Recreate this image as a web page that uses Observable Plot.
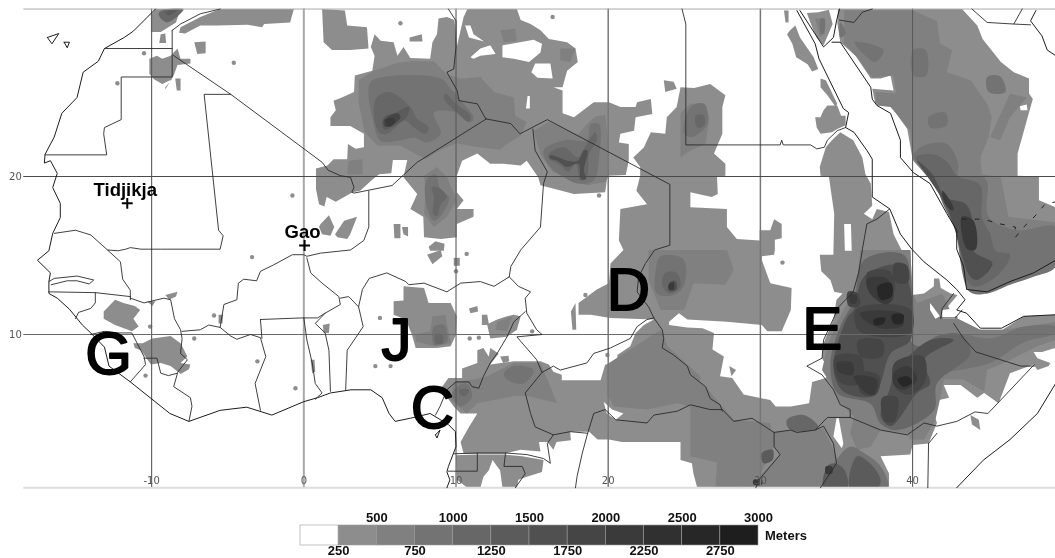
<!DOCTYPE html>
<html><head><meta charset="utf-8">
<style>html,body{margin:0;padding:0;background:#fff}svg{display:block;filter:blur(.45px)}</style>
<script src="https://cdn.jsdelivr.net/npm/d3@7"></script>
<script src="https://cdn.jsdelivr.net/npm/@observablehq/plot@0.6"></script>
</head><body><div id="map"></div><div id="key"></div>
<script>
// Elevation bands: polygons as flat lon,lat lists
const band1 = [
[1.2,30.6,2.7,30.5,2.85,29.55,4.15,29.45,4.25,28.1,3.05,28,1.85,28,1.3,28.5],
[4.65,29,5.05,28.6,5.9,28.5,6.15,27.65,6.55,28.2,7,27.5,8.3,27.45,8.45,28.5,8.75,29,8.85,30,9.4,30.1,9.9,29.9,10.05,28.2,10.5,30.1,10.75,30.6,14,30.6,14.25,29.9,14.9,29.65,15.55,29.25,16.1,28.7,17.3,28.5,17.85,28.1,18,27.25,17.3,26.7,17,25.65,16.4,25.65,17,25.45,17,24,17.75,23.75,19.05,24.7,20.05,24.7,20.8,24.4,21.8,24.4,21.9,24.7,22.8,24.9,22.9,23.95,21.8,23.75,21.7,22.9,20.8,22.7,20.7,22.15,21.35,22.05,21.35,21,21.15,20.1,19.95,20.05,19.8,19,17.75,18.9,15.55,19.45,15.4,19.95,14.65,21,14.25,20.7,13.15,20.8,12.25,20.8,11.4,21.45,10.4,21,10.05,20.05,10.05,19,10.5,18.5,10.05,17.95,11.15,17.95,11.15,17.45,10.05,17,10.05,16.15,9,16.05,7.9,16.15,7.85,17.45,7,17.95,7.45,18.9,6.55,19.95,6.8,21.05,5.85,21.05,5.75,20.2,4.95,20.15,4.55,19.85,3.7,19.1,3.2,19,2.1,18.4,1.5,18.7,1.35,18.1,1,18.25,0.8,19.2,0.8,20.5,1.55,20.7,1.95,21.1,2.85,21.1,2.9,22.05,3.4,21.75,3.95,21.85,3.95,22.7,3.05,23.2,1.75,23.2,1.75,23.75,2.1,24.2,1.95,24.8,2.5,25,3.3,25.35,3.35,26.4,4.5,26.7,4.65,27.65,4.4,28.2],
[6.95,28.8,7.75,29,7.8,28.55,6.95,28.55],
[23.65,26.1,24.3,26,24.5,25.55,23.75,25.35],
[1.1,17,1.65,17.55,2,16.8,1.75,16.25,1.2,16.35,1,16.8],
[2.05,16.35,2.65,17.2,3.5,17.45,3.05,16.35,2.85,16.05,2.2,16.15],
[5.9,17,6.35,17,6.35,16.1,5.95,16.1],
[6.45,16.8,6.85,16.8,6.85,16.2,6.55,16.35],
[8.2,15.55,8.65,15.9,9.25,15.75,9.2,15.3,8.3,15.3],
// Darfur, Central Africa, Ethiopia, Horn, East Africa
[24.75,25.65,25.65,25.6,26.7,25.85,27.7,25.15,27.5,24.4,27.5,22.7,26.95,21.45,27.7,20.8,27.7,20.05,27.15,20,27.2,18.9,26.8,18.7,25.4,19,25.4,18.05,27.8,17.95,27.8,16.8,28.45,16.05,29.95,15.95,29.95,16.6,30.65,16.6,30.9,17.3,31.4,17,31.4,16.1,30.95,16,30.95,15.35,30.9,15.05,30.1,14.95,30.1,14.7,30.65,13.25,32.05,12.95,32,11.55,31.4,10.2,30.45,10.2,30.1,10.6,27.8,10.8,25.2,10.95,24.65,11.35,24,10.8,24,10.6,25.2,10.45,26.2,10.4,26.95,10.1,26.85,9.05,27.6,8.6,27.35,7.35,28.15,7.25,28.9,6.2,30.65,5.85,31,5.45,32,5.45,33.2,5.65,33.4,7,34.3,7.25,34.5,7.75,34.05,8.5,34.15,9.45,34.8,10.95,35,12.2,35.4,12.6,34.85,12.7,34.6,13.45,34,14,33.9,15.05,34.8,15.05,34.8,15.3,34.85,17.65,34.5,20,33.95,20.05,33.9,20.6,34.3,21.85,34.7,22.3,35.25,22.8,36.1,22.3,36.7,21.2,36.9,20.15,37.25,19.55,37.35,18.15,36.8,17.65,37.35,17.3,37.65,17.95,38.45,17.75,38.75,16.35,39.3,15.3,39.85,15.35,39.95,13.2,39.95,12.5,40.75,12.6,41.4,13.05,41.4,13.55,41.75,13.55,41.85,12.95,42.5,12.6,42.95,12.5,42.7,12.2,42.2,11.65,41.85,11.15,42.95,11.15,42.95,10.6,44.45,10.3,45.9,10.3,47.3,11.15,49.4,11.25,49.4,9.15,48.5,8.9,47.95,8.9,48.2,8.5,49.05,8.2,48.95,8,48.2,7.75,47.95,8.1,46.4,7.55,45.65,5.65,44.7,6.3,44.25,6,43.15,6.8,42.05,6.8,42.4,6,41.75,5.85,41.4,5,41.6,4.4,41.05,3.1,40,3,39.85,2.4,37.9,2.3,38.45,1.2,38.45,0.3,25.85,0.3,25.6,1.2,25.5,1.85,24.75,2.05,24.75,2.7,24.75,3.2,20.9,3.2,20.05,3.35,19.3,3.35,18.75,3.85,17.5,3.85,17.55,3.3,16.6,3.2,16.4,2.7,16,3.2,15.45,3.2,15.55,2.6,14.25,2.7,13.15,2.45,10.5,2.45,10.3,3.2,10.85,4.15,11.4,5,10.3,5,9.85,5.45,9.4,6.05,8.95,6.5,9.5,7.25,10.4,7.25,10.4,7.85,11.4,8.2,11.4,9,11.8,9.15,12.15,8.6,12.25,9.15,12.8,8.8,12.25,8.1,13.8,8.3,15.55,8.3,16.1,8.1,16.4,7.65,16.95,7.45,16.95,7.1,19.5,7.1,19.8,8.1,20.6,8.1,20.6,8.7,21.45,9.25,21.8,10.1,22.35,10.6,23,10.95,20.15,11.05,18.85,11.25,18.05,11.25,18.05,12,19.25,12.85,20.05,13.25,20.15,14.5,21,15.35,20.7,15.95,20.8,17.95,22.55,18.25,21.85,19.1,22.1,20.05,22.1,20.6,21.65,21.2,22.35,21.85,22.8,22.8,23.75,22.7,23.85,23.75,24.5,24.4],
[10,2.35,11.35,2.4,13.15,2.4,14.35,2.3,15.75,2.05,15.65,1.3,14.65,1,14.1,0.8,14,0.3,13.05,0.3,12.9,1.4,12.4,2.05,12.15,1.4,11.8,1,11.6,0.3,10.75,0.3,10.05,0.8],
[27.95,8,28.4,7.75,28.1,7.35],
[43.8,4.9,44.35,4.6,44.45,3.95,43.9,4.3],
// Red Sea hills
[31.55,30.5,31.85,30.5,31.85,29.75,31.65,29.75],
[31.95,29.25,32.3,29.55,32.6,28.8,33.5,27.55,33.8,26.8,33.4,26.65,33.1,27.1,32.35,27.55,32.1,28.4,31.75,29],
[33.95,26.2,34.3,26.1,35.05,24.6,34.95,24.4,34.4,25.15,33.95,25.65],
[33.6,23.75,33.95,23.75,34.15,24.2,34.4,24.5,35.05,24.5,35.3,23.85,35.6,23.85,35.6,23.25,35.05,23,34.7,22.8,33.95,22.7,33.7,23.1],
[33.05,30.35,33.8,30.4,34.5,30.55,34.75,29.65,34.15,28.3,33.7,28.8,33.4,29.45],
// Arabia
[35.1,30.6,43.25,30.6,44.25,29.55,44.6,28.7,45.8,27.25,46.65,26.6,47.65,26.2,47.65,25.25,47.9,24.9,47.75,24.4,46.9,21.45,46.9,20.05,48.3,20,48.3,18.5,49.4,18.05,49.4,14.7,47.95,13.9,46.4,13.35,44.9,12.7,43.55,12.85,43.35,14.3,42.8,16.8,42.25,18.05,41.4,19.85,40,21.1,39.65,23,39.1,23.75,38.55,24.6,37.55,24.6,37.35,25.55,38.75,25.45,38.55,26.4,37.9,26.2,37.25,26.2,36.25,27.65,35.25,28.5,35.05,29.75],
// Morocco and West Sahara
[-10.05,29.15,-10.05,30.2,-9.75,30.6,-8.1,30.6,-8.4,29.75,-9.4,29.15],
[-8.1,29.45,-6.8,30.1,-5.5,30.6,-0.65,30.6,-0.9,29.75,-2.6,29.65,-2.75,29.45,-3.7,29.6,-5.7,29.55,-6.8,29.55,-7.8,29.05,-8.2,29.1],
[-9.4,29,-9.1,29.05,-9.05,28.45,-9.5,28.45],
[-7.2,28.5,-6.45,28.55,-6.45,27.8,-7,27.75],
[-10.15,27.45,-9.65,27.65,-9.3,27.45,-8.75,27.65,-8.3,28.1,-8.1,27.45,-7.45,27.45,-7.45,27.15,-8.3,27.05,-8.55,26.4,-9.1,25.5,-9.1,25.65,-8.65,26.15,-9.3,25.85,-9.85,26.15,-10.15,26.5],
[-8.45,26.2,-8.1,26.2,-8.1,25.45,-8.35,25.45],
// Guinea highlands and small patches
[-13.15,11.45,-12.4,12.2,-11.85,12,-11.1,11.8,-10.75,11.55,-11.2,11,-10.85,10.5,-11.3,10.2,-12.4,10.6,-13.15,11],
[-11.2,9.45,-10.6,9.45,-9.95,9.75,-8.75,9.9,-8.1,9.45,-7.65,8.6,-8.1,8.2,-7.45,8.1,-7.55,7.8,-8.1,7.5,-8.75,8,-9.4,8.2,-10.05,8.1,-10.7,9,-11.1,9.15],
[-10.3,12.1,-9.75,12.1,-9.95,11.8],
[-9.1,12.5,-8.3,12.7,-8.4,12.4,-8.85,12.2],
[-5.6,11.25,-5.3,11.25,-5.35,10.7,-5.6,10.7],
[1.25,10.6,1.7,10.7,1.65,10.1,1.3,10.1],
[0.45,8.4,0.7,8.4,0.75,7.65,0.55,7.55],
// Jos and Adamawa surroundings
[6.55,13.05,7.9,12.95,8.2,12,9.65,12,10.05,11.15,10,10,9.65,9.25,8.75,9.15,7.35,9.15,7.1,10,6.7,10.95,5.9,11.25,5.9,12.1,6.55,12.15],
[10.85,11.65,11.4,11.8,11.45,11.45,10.95,11.35],
[11.7,11.25,12.05,11.25,12.15,10.7,12.7,10.95,13.35,11.15,13.8,11.25,14.25,11.15,14,10.3,13.35,9.85,12.25,9.75,12.05,10.6,11.7,10.6],
[12.9,8.6,13.45,8.65,13.5,8.3,13.1,8.2],
[8.1,15.05,9,15.35,9.1,14.95,8.45,14.45],
[9.85,14.85,10.25,14.85,10.25,14.35,9.85,14.35],
[17.55,11.45,17.85,12,17.9,10.3,17.65,10.3]
];
const band2 = [
[3.6,26.1,4.6,26.7,6.15,27.2,7.1,27.3,8.55,27.3,9.4,26.45,10.3,26.2,11.6,26.3,12.5,25.35,13.8,25,13.9,23.85,14.65,23.45,14.25,22.6,13.35,22.05,12.9,21.7,11.15,21.9,10.05,22.1,9,21.7,8,21.1,6.35,21.95,4.85,21.95,4,22.8,3.6,24.7],
[12.9,29.25,13.9,29.35,14,28.6,13.15,28.5],
[16.85,28.1,17.85,28.1,17.5,27.25,16.85,27.35],
[7.9,20.05,8.75,20.6,9.4,19.95,10.05,18.5,9.4,17.45,8.55,16.8,7.9,17.65,8,18.9],
[2.95,21,3.85,21.1,3.85,20.15,2.85,20.15],
[15.1,22.9,16.1,23.45,18,22.65,18.6,23.3,19.15,23.8,19.8,23.9,20.05,21.85,20.05,20.05,19.8,19.65,18.6,19.45,17.3,19.85,16.3,20.35,15.55,21.4],
[33.6,30,34.25,30,34.25,29.05,33.9,28.85],
[35.5,30.5,40.05,30.5,41.6,29.85,41.8,28.4,42.6,28,42.25,26.6,43.8,26.1,44.9,24.6,45.2,23.75,45,22.5,44.45,21.2,44.55,20.15,45.8,19.95,46.3,17.45,49.4,17.1,49.4,14.4,47.95,13.7,46.4,13.2,44.9,12.6,43.75,12.7,42.8,17,42.35,18.05,41.6,19.3,40.05,21,39.85,22.9,39.2,23.65,38.55,24.4,37.65,24.5,37.55,25.35,38.9,25.25,38.75,26.4,37.35,26.25,36.35,27.55,35.5,28.4],
[46.4,25.25,47.5,25,46.4,23.75,45.75,22.3,45.1,22.5],
[36.55,15.35,39.85,15.35,40,12.6,40.3,12,41.95,12.6,42.65,11.15,44.45,10.3,45.95,10.3,49.4,10.8,49.4,9.65,48.2,9.25,46,8.2,44.9,7.75,44.7,6.4,43.35,7.15,42.05,7.15,41.85,6.1,41.5,4.6,40.75,3.35,39.85,3.35,39.65,3.75,37.9,3.95,37.25,2.9,36.35,2.7,35.9,3.75,36.15,4.8,35.25,5.65,34.6,6.9,34.05,7.75,34.4,9.25,35,10.7,36.1,12.7,36.45,14.1],
[30.65,3.85,34.15,4.05,35,2.3,35.7,0.3,28.6,0.3,29.9,1,31.3,2.4,30.9,2.9],
[22.65,15.35,27.8,15.35,28.25,14.1,27.7,13.15,25.6,13.25,25,11.55,23.45,11.55,22.65,13.45],
[24.75,24,25.4,24.6,26.3,24.6,26.65,23.75,26.4,22.05,25.4,21.65,24.75,21.2],
[11.15,7.15,12.05,7.35,13.8,8.2,15.55,8.2,16.65,5.65,14.7,6.1,13.8,6.1,11.4,5.65,10.7,5,9.65,5.85,9.85,7],
[19.9,8.1,23.45,10.3,23.9,9.25,26.05,7.35,26.05,5.25,24.55,5.65,22.55,5.25,20.35,5.45,19.9,6.3],
[25.4,7.35,26.4,6.7,27.5,5.45,28.25,4.6,30.65,4.4,30.9,2.9,29.9,1,28.6,0.3,27.05,0.3,27.15,1.9,25.4,2.3],
[8.45,11.15,9.3,11.25,9.65,9.45,8.55,9.25,7.35,9.55,7.35,10,8.3,10.2],
[12.7,10.8,13.7,11.15,13.35,10.2,12.6,10.3]
];
const whiteGaps = [
[10.6,29.55,10.85,28.8,11.85,28.55,11.15,29,10.95,29.55],
[10.95,27.55,11.6,28.1,12.25,28.3,12.6,27.75,11.6,27.65,11.15,27.45],
[13.05,28.3,15.1,28.65,15.65,28.4,15.55,27.85,14.8,27.25,13.8,27.45,13.05,27.55],
[15.2,27.15,16.2,27.15,16.35,26.2,15.35,26.25,14.95,26.6],
[14.7,25.1,14.85,25.1,14.85,24.3,14.6,24.3],
[19.7,5.75,20.25,5.25,21,5,20.5,4.6,19.9,5],
[35,4.7,35.15,4.7,35.45,3.1,35.35,2.8,34.8,3.55],
[41.15,12,41.8,11.15,41.5,11,41.15,11.55],
[41.95,11.55,42.7,11.65,42.8,11,41.95,11],
[47.05,24.45,47.5,24.55,47.55,24.2,47.1,24.2],
[35.5,17,35.95,17,36,15.3,35.55,15.3]
];
const band3 = [
[4.4,26,5.6,26.35,9,26.2,9.65,25.55,10.5,24.6,11.15,23.75,11,23.45,10.05,24.05,8.55,24.05,9,22.7,8.1,22.15,7.25,22.45,6.15,22.25,5.05,22.25,4.5,23.75,4.25,25.3],
[8.05,19.75,8.65,20.15,9,19.1,9.55,18.7,9.1,17.65,8.55,17.2,8.05,18.25],
[15.75,21.65,17.1,22.3,18.6,22.3,18.85,23.3,19.4,23.3,19.4,21.2,19.05,19.75,18,19.55,17.1,19.95,16.2,20.6],
[44.9,26.3,45.75,26.35,46.1,25.35,45,25.35],
[41.05,23.75,42.15,24.05,42.25,23.25,41.15,23.1],
[40.05,28,40.85,28,40.9,26.4,40.05,26.4],
[36.2,28.5,38.1,28,37.55,27.25,36.9,27.65,36.35,28.2],
[35.25,29.75,35.6,29.05,35.25,28.8],
[40.05,21.35,40.7,21.95,42.25,22.05,43,20.8,43,20.05,44.8,19.85,45,17.45,46.9,16.6,49.4,16.8,49.4,14.3,47.95,13.65,46.4,13.15,44.9,12.6,43.75,12.7,42.75,16.9,42.15,18.25,41.4,19.75,40.3,20.8],
[40.5,9.05,42.95,10,45.1,9.75,47.3,10.5,49.4,10.5,49.4,10.1,47.3,9.5,45.1,8.2,42.05,7.55,40.5,6.9],
[34.85,1.85,35.9,2.9,36.8,2.5,37.9,1.65,38.35,0.3,34.15,0.3],
[25.4,24.4,26.3,24.6,26.5,23.3,25.5,22.5,25,22.7],
[23.45,14.95,24.95,14.75,24.95,13.05,24.3,12.5,23.2,12.6,23.1,13.9],
[13.15,7.55,13.8,8,15.1,7.75,14.45,6.9,13.35,7.15],
[9.85,6.5,10.7,6.9,11.05,6.05,10.3,5.45,9.85,5.85],
[8.55,10.5,9.2,10.6,9.4,9.55,8.55,9.35],
[33.95,30,34.2,30,34.2,29.2,34,29]
];
const band4 = [
[4.8,25,5.6,25.35,7,24.4,7.45,23.65,8.2,23.1,8,22.7,7.25,23.1,6.6,23.55,5.5,22.7,4.95,22.8,4.6,23.95],
[9.3,25.25,10,24.6,10.95,23.85,10.85,23.45,10.05,24.05,9.2,24.95],
[8.4,19.3,8.85,19.3,9.4,18.7,9,18.25,8.75,17.5,8.5,17.65,8.55,18.7],
[16.1,21.45,17.1,21.85,18,21.2,18.4,21.75,18.75,22.3,19.15,22.8,19.25,22.3,18.75,21.45,18.6,20,18.2,19.75,17.85,20.8,17.4,20.3,16.85,20.7,16.1,21.15],
[40.2,21.2,41.4,21.4,42.3,20.9,42.9,20.05,44.45,19.45,44.55,17.45,45.1,16.35,45.45,15.3,46.4,15.05,45.75,13.9,44.25,13.05,43.7,13.25,42.8,16.6,42,18.25,41.3,19.95],
[36.8,14.7,39.4,15.05,39.95,12.85,39.85,9.65,40.5,9.25,41.6,9.9,43.15,10,43.8,8.8,41.6,6.9,41.4,5.2,39,3.95,37.9,4.35,37.25,5.6,35.05,6.3,34.6,8.2,35.25,10.5,36.15,12.2],
[31.75,4.6,32.85,4.9,33.8,4.15,32.6,3.85,31.85,4.05],
[25.75,23.85,26.3,23.85,26.3,23.25,25.85,23.1],
[23.75,13.9,24.5,13.9,24.75,13.05,24,12.6,23.55,13.15],
[8.65,10,9.1,10,9.1,9.45,8.65,9.45],
[10.2,6.5,10.85,6.5,10.6,6.1,10.3,6.2],
[-9.55,30.3,-9,30.6,-7.9,30.6,-9,29.75]
];
const band5 = [
[5.25,23.75,6.05,24.05,6.9,24.4,6.8,23.85,6.05,23.25,5.25,23],
[34.4,1.65,34.85,1.85,35.5,1.45,35.7,0.3,34.15,0.3],
[36.35,2.3,37.2,1.85,37.9,0.8,37.7,0.3,35.9,0.3],
[30.1,2.5,30.8,2.7,30.8,2.05,30.2,1.85],
[-9.1,30.4,-8.3,30.55,-8.85,30.2]
];
const band6 = [
[40.3,21,41.3,20.15,42.15,18.7,43.5,18.25,43.95,17.2,44,15.3,45.25,14.5,44.25,13.45,43.8,13.65,42.6,17.2,42.15,18.25,41.15,19.75],
[36.8,13.65,38.95,14.4,39.75,13.25,39.85,9.65,38.55,8.8,37.9,6.9,37.45,6.1,35.45,6.4,34.8,7.9,35.7,11.05,36.15,11.6],
[38.95,7.7,41.15,9.65,42.7,9.65,40.75,8.4,41.15,6.9,40.3,6.3,38.55,4.2,37.9,4.85,38.45,6.4],
[16.2,21.35,16.75,21.2,17.3,21,18,21,18.4,21.65,18.65,21.65,18.4,20.4,18.55,19.85,18.2,19.85,18.05,20.8,17.3,20.6,16.65,21,16.15,21.15],
[24,13.25,24.4,13.4,24.5,12.85,24,12.75]
];
const band7 = [
[5.25,23.55,6.15,24,6.35,23.75,5.8,23.25,5.35,23.15],
[35.75,12.7,36.4,12.6,36.5,11.8,35.8,11.8],
[37,13.9,38.5,14,38.8,12.7,37.3,12.6],
[38.8,14.5,39.6,14.4,39.7,13.3,38.9,13.3],
[36.3,11.6,39.85,11.6,39.85,10.1,36.5,10.2],
[34.9,8.6,36.6,8.6,36.6,6.9,35.2,7],
[36.4,9.6,38,9.6,38,8.6,36.6,8.6],
[36.5,7.6,37.8,7.4,37.6,6.2,36.6,6.3],
[38.8,8.2,40.7,8.6,40.8,7,39.8,6.2,38.9,6.6],
[38,6,39,6,38.8,4.5,38.2,4.5]
];
const band8 = [
[37,13.5,38.3,13.55,38.75,12.4,38.3,11.9,37.2,12.6],
[36.55,11.35,39.2,11.35,39.4,10.6,37.9,10.4,36.8,10.95],
[35,8.2,36.05,8.2,36.05,7.45,35.15,7.65],
[36.15,7.35,37.65,7.15,37.45,6.2,36.8,6.4],
[38.75,7.55,39.65,8,40.3,7.15,39.4,6.5,38.75,6.85],
[35.9,12.5,36.3,12.5,36.3,12,35.9,12],
[34.3,1.65,34.7,1.65,34.7,1.2,34.3,1.2],
[29.55,0.8,30.1,0.8,30.1,0.5,29.55,0.5],
[41.95,19.1,42.25,18.8,42.7,17.95,42.6,17.85,42.15,18.25],
[43.25,17.45,44,17.2,44.15,15.4,43.6,15.4,43.2,16.6],
[5.35,23.55,5.9,23.7,6,23.45,5.6,23.15],
[24,13.2,24.3,13.3,24.3,12.85,24,12.85]
];
const band10 = [
[39,7.15,39.65,7.35,40,7,39.4,6.7],
[37.45,10.95,38.2,11.05,38.1,10.7,37.5,10.6],
[38.65,11.25,39.4,11.25,39.3,10.7,38.75,10.7],
[37.7,13.05,38.6,13.25,38.6,12.4,37.9,12.2]
];
const specks = [[-10.5,27.8],[-12.25,25.9],[-4.6,27.2],[-0.75,18.8],[6.35,29.7],[16.35,30.1],[19.4,18.8],[31.45,14.55],[-3.4,14.9],[-5.9,11.2],[-7.2,9.75],[-3.05,8.3],[-0.55,6.6],[-10.4,7.4],[-10.1,10.5],[4.7,8],[5.7,8],[5,11.05],[10.7,15.1],[10,14],[19.95,8.7],[18.5,12.5],[10.9,9.75],[11.5,9.8],[15,10.2],[9.6,11]];

const coast = [
[-9.75,30.6,-11.2,29.2,-11.8,28.8,-13.1,28.1,-13.5,27.3,-14.5,26.6,-14.9,25,-15.9,24,-16.4,22.5,-17,21.4,-17.05,20.85,-16.65,21,-16.2,20.2,-16.5,19.3,-16,18.3,-16,17.4,-16.5,16.4,-16.75,15.3,-17.5,14.7,-16.65,13.9,-16.75,13.35,-16.75,12.6,-16.2,12.3,-15.4,11.6,-14.55,10.6,-14,10.1,-13.1,9.2,-12.8,8,-11.4,7,-10.1,6,-8.8,5,-7.55,4.5,-5.5,5.2,-3.75,5.4,-2.1,4.9,0,5.75,0.9,6,1.75,6.3,3.1,6.5,4.4,6.5,5.15,6,5.6,5,6,4.5,7,4.7,8.3,5,9.5,4.3,9.96,3.85,10,2.9,9.5,1.65,9.4,1.3,9.6,0.8,9.4,0.3],
[32.4,30.5,33.6,28.4,33.85,27.45,35.45,24.3,35.8,24.05,35.6,23.1,36.15,22.8,37,21.65,37.35,21.1,37.35,18.7,38.5,17.95,39.2,16.35,39.95,15.4,40.75,14.6,42.25,13.45,42.9,12.85,43.45,12.2,42.9,11.55,43.55,11.35,44.45,10.4,45.85,10.4,47.3,11.15,49.4,11.25],
[32.6,30.5,34.15,28.2,34.8,28.8,35,29.85,35.2,30.6],
[34.7,28.5,35.25,28.5,37.25,25.65,37.35,24.9,37.65,24.5,38.55,24,39.2,22.3,39.2,21.2,40.05,20.25,41.15,19.55,42.25,17.65,42.9,16.6,42.9,15.4,43.35,14.3,43.55,12.85,44.9,12.7,46.4,13.35,47.95,13.9,49.4,14.7],
[48.1,30.5,47.75,29.85,48.5,28.9,48.85,28,49.4,27.65],
[49.4,6.9,48.2,5,46.4,3.35,44.65,2.05,42.9,0.3],
[-16.85,28.8,-16.1,29.05,-16.55,28.4,-16.85,28.8],
[-15.75,28.5,-15.4,28.5,-15.55,28.15,-15.75,28.5],
[8.65,3.65,8.95,3.95,8.75,3.45,8.65,3.65]
];
const borders = [
[-13.1,28.1,-8.65,28.1],
[-8.65,29.25,-8.65,26.3,-12,26.3,-12,23.6,-13.1,23.1,-13.15,22.7,-12.95,21.37,-17,21.37],
[-8.65,29.25,-8.1,29.65,-6.8,30.3,-5.5,30.6],
[-8.55,27.65,-4.8,25.2,1.2,20.9,1.6,20.4,2.4,20.05,3.07,19.95,3.3,19.3,3.15,19,3.3,18.95,5.8,19.43,7.45,20.9,12,23.65],
[-4.8,25.2,-6.55,25.2,-5.6,16.6,-5.3,16.25,-5.5,15.4,-9.4,15.4,-10.2,15.4,-10.7,15.4,-11.4,15.5,-11.7,15.4,-12.2,15.3,-12.9,15.35,-14,16.3,-15,16.6,-16.4,16.4],
[-12.9,15.35,-12.05,14.6,-11.9,13.5,-11.4,12.8,-11.4,12.2],
[-16.75,12.7,-13.7,12.65,-11.4,12.4],
[-16.75,13.35,-16.4,13.55,-14.9,13.7,-13.8,13.45,-14.1,13.2,-14.9,13.4,-15.55,13.4,-16.6,13.15],
[-13.7,12.65,-13.7,12,-14,11.65,-14.8,11.4,-15,11],
[-14,10,-13.1,10.2,-12.3,10.1,-11.3,10.1,-10.5,8.6,-10.4,8.1,-11.4,7],
[-10.5,8.5,-9.65,8.5,-9.4,7.55,-8.9,7.4,-8.3,7.55,-8.55,6.7,-7.45,6,-7.35,5.45,-7.55,4.5],
[-11.4,12.3,-10.5,12,-9.2,12.3,-8.75,12.2,-8.5,11,-8.1,10.3,-8,9.75,-8.1,8.8,-7.65,8.4,-8.3,7.6],
[-8,10.2,-6.8,10.3,-6.25,10.6,-5.5,10.45,-4.8,9.9,-4.4,9.7,-3.5,10,-2.85,9.8,-2.5,8.6,-3.2,6.9,-2.85,5.2],
[-5.5,10.45,-5.25,11.9,-4.4,12.2,-4.3,13.25,-3.95,13.5,-3.1,13.4,-2.85,14,-2,14.4,-0.75,15.05,0,15.05,0.2,14.95,1.1,15.15,3.07,15.35,3.94,15.95,4.27,16.8,4.27,19.07],
[0.2,14.85,0.45,13.9,1.2,13.25,2.3,12.4,2.4,11.9,1.4,11.35,0.75,10.7,1.4,10.1,1.65,9,1.75,6.4],
[-2.85,10.95,-0.1,11.05,0.9,11.05,1.4,11.35],
[-2.85,10.95,-2.75,9.75],
[0,11.05,0.2,9.65,0.55,8.2,0.75,6.9,1.2,6.3,0.75,5.9],
[2.4,12.3,2.95,12.4,3.6,11.75,3.9,10.5,2.85,9,2.75,6.5],
[3.6,11.75,3.85,12.85,4.3,13.55,5.45,13.9,6.7,13.35,6.9,13.15,7.9,13.25,9.4,12.7,10.3,13.25,11.6,13.35,12.5,13.05,13.5,13.65,13.6,14.3,14.25,15.35,15.55,16.8,15.75,19.55,16,20.3,15.2,21.65,15.05,23],
[9.5,30.6,10,29.85,10,28.2,9.85,26.8,9.4,26.6,10.07,25.45,10.2,24.8,11.4,24.6,11.95,23.65,13.6,23.35,14.2,22.7,16,23.6,24.05,19.5,24.05,15.65,23.05,15.35,22.45,14.5,22,13.65,21.9,12.7,22.65,11.75,23,11.05,23.55,10.3,23.65,9.75,23.55,9.15,24.3,8.7,25.2,8,25.4,7.45,26.4,6.7,26.7,5.95,27.35,5.55,27.5,5.15],
[24.85,30.6,25.1,29.65,25.1,22,31.3,22,31.4,22.3,31.5,22,33.3,22,33.7,21.75,34.2,21.85,34.4,22.3,35.05,22.9,35.6,23.1],
[13.5,13.65,14.1,13.05,14.9,12.7,14.55,12.3,14.65,11.35,15.3,10.3,15.65,10,14,9.85,15.3,8.4,15.65,7.6,14.55,6.3,14.9,5,15.2,4.15,16.4,3.65,17.5,3.85,18.65,3.75,19.05,5,19.8,5.25,20.5,4.6,22.55,4.4,23,4.9,24.55,5.15,25.4,5.55,26.7,5.25,27.5,5.25,28.25,4.5,29.45,4.7,30.1,4.3,30.9,3.8,32,3.95,32.4,3.8,33.6,3.95,34.4,4.75,35.9,4.75,37.9,3.95,39.65,3.65,40.75,4.4,41.6,4.2,42.9,4.5,44.1,5.1,44.95,5,48,8.1],
[14.55,11.45,13.8,10.8,13.35,9.85,12.7,8.8,12.25,8.2,11.8,7.35,11.5,6.6,11.05,6.7,10.85,7,10,7,9.4,6.5,8.95,5.45,8.65,4.9],
[15.65,7.6,16.4,8,16.85,7.75,18.6,8.2,19.05,8.8,20.15,9.15,21.45,9.75,21.9,10.5,22.55,10.95,23,11.05],
[9.85,2.45,11.4,2.5,13.25,2.5,14.65,2.4,15.75,2.15,16.2,1.85,16,3.1,16.4,3.65],
[11.4,2.5,11.4,1.35,9.5,1.35],
[13.25,2.5,13.15,1.65,14.35,1.65,14.55,1.2,13.9,0.3],
[18.65,3.75,18.3,2.5,17.95,1,17.85,0.3],
[30.9,3.8,30.9,2.9,31.3,2.4,29.9,0.8,29.7,0.3],
[33.6,3.95,34.15,4.2,34.8,3.1,35,1.85,33.95,0.3],
[36.7,15.35,36.45,13.9,36.1,12.7,35.15,11.75,34.7,10.8,34.15,9.65,34.05,8.5,33.05,8,34.05,7.45,34.8,6.5,35.25,5.55,35.9,5.25,35.9,4.75],
[36.7,15.4,37,17,37.65,17.3,38.5,17.95],
[42.7,10.7,43.35,9.75,44.15,8.9,47.1,8,48,8],
[41.85,11.05,41.95,11.65,42.7,12.6],
[41.85,11.05,42.8,11.05,43.25,11.55],
[41.05,3.1,41,0.3],
[41.05,3.1,41.6,3.75],
[35.2,29.9,36.15,29.75,36.7,30.4,37.35,30.6],
[43.9,30.6,44.9,29.75,46.65,29.65,47.2,30.6],
[46.65,29.65,47.75,29.6]
];
const yemenBorder = [43.25,17.3,44.45,17.3,45,17.2,45.75,17,46.75,16.8,46.75,16.15,47.4,16.9,48.05,17.5,48.7,18.25,49.4,18.4];

const lonTicks = [-10,0,10,20,30,40];
const latTicks = [10,20];
const bandLimits = [250,500,750,1000,1250,1500,1750,2000,2250,2500,2750];
const bandGreys = ["#ffffff","#8d8d8d","#808080","#737373","#676767","#5b5b5b","#505050","#454545","#3a3a3a","#303030","#272727","#1e1e1e"];
const keyTop = [500,1000,1500,2000,2500,3000];
const keyBottom = [250,750,1250,1750,2250,2750];
const bigLetters = [["G",-12.83,8.73],["J",6.09,9.62],["C",8.45,5.32],["D",21.33,12.78],["E",34.07,10.32]];
const towns = [["Tidjikja",-11.6,18.3],["Gao",0.05,15.63]];

function toRows(layers) {
  const out = [];
  let id = 0;
  for (const [list, elevation] of layers) for (const flat of list) {
    id++;
    for (let i = 0; i < flat.length; i += 2) out.push({id, lon: flat[i], lat: flat[i+1], elevation});
  }
  return out;
}
const lowRows = toRows([[band1,375],[band2,625],[whiteGaps,0]]);
const highRows = toRows([[band3,875],[band4,1125],[band5,1375],[band6,1625],[band7,1875],[band8,2125],[band10,2625]]);
const paths = list => list.flatMap((flat,k) => { const o=[]; for (let i=0;i<flat.length;i+=2) o.push({k,lon:flat[i],lat:flat[i+1]}); return o; });
const colorOpt = {type:"threshold", domain: bandLimits, range: bandGreys};
const sans = "'Liberation Sans',Arial,sans-serif";

const map = Plot.plot({
  width:1055, height:495, margin:0,
  x:{domain:[-19.93,49.39], range:[0,1055], axis:null},
  y:{domain:[-0.19,31.14], range:[495,0], axis:null},
  color: colorOpt,
  marks:[
    Plot.line(lowRows,{x:"lon",y:"lat",z:"id",fill:"elevation",stroke:"none",curve:"linear-closed"}),
    Plot.line(highRows,{x:"lon",y:"lat",z:"id",fill:"elevation",stroke:"none",curve:"catmull-rom-closed"}),
    // the map stops at its lower frame line: nothing shows below it or past its top
    Plot.rect([[-0.19,0.3],[30.6,31.14]],{x1:-19.93,x2:49.39,y1:d=>d[0],y2:d=>d[1],fill:"#ffffff"}),
    Plot.dot(specks,{x:d=>d[0],y:d=>d[1],r:2.2,fill:"#8d8d8d",stroke:"none"}),
    Plot.ruleX(lonTicks.filter(d=>d===-10||d===10||d===40),{x:d=>d,y1:0.3,y2:30.6,stroke:"#5a5a5a",strokeWidth:1.1}),
    Plot.ruleX([20,30],{x:d=>d,y1:0.3,y2:30.6,stroke:"#777777",strokeWidth:1.5}),
    Plot.ruleX([0],{x:d=>d,y1:0.3,y2:30.6,stroke:"#a8a8a8",strokeWidth:2}),
    Plot.ruleY([20],{y:d=>d,x1:-18.4,x2:49.39,stroke:"#4a4a4a",strokeWidth:1}),
    Plot.ruleY([10],{y:d=>d,x1:-18.4,x2:49.39,stroke:"#6a6a6a",strokeWidth:1}),
    Plot.ruleY([30.6],{y:d=>d,x1:-18.4,x2:49.39,stroke:"#aaaaaa",strokeWidth:1}),
    Plot.ruleY([0.3],{y:d=>d,x1:-18.4,x2:49.39,stroke:"#dddddd",strokeWidth:2}),
    Plot.line(paths(coast),{x:"lon",y:"lat",z:"k",stroke:"#1c1c1c",strokeWidth:1,curve:"linear"}),
    Plot.line(paths(borders),{x:"lon",y:"lat",z:"k",stroke:"#2a2a2a",strokeWidth:.9,curve:"linear"}),
    Plot.line(paths([yemenBorder]),{x:"lon",y:"lat",z:"k",stroke:"#222",strokeWidth:1,strokeDasharray:"4,9"}),
    Plot.text(lonTicks,{x:d=>d,y:0.72,text:d=>String(d),fontSize:10,fill:"#555",fontFamily:"'DejaVu Sans',sans-serif"}),
    Plot.text(latTicks,{x:-18.95,y:d=>d,text:d=>String(d),fontSize:10,fill:"#555",fontFamily:"'DejaVu Sans',sans-serif"}),
    Plot.dot(towns,{x:d=>d[1],y:d=>d[2],symbol:"plus",r:3.6,stroke:"#000",strokeWidth:2}),
    Plot.text(towns,{x:d=>d[1],y:d=>d[2],dy:-13,dx:-2,text:d=>d[0],fontSize:18.5,fontWeight:"bold",fill:"#000",fontFamily:sans}),
    Plot.text(bigLetters,{x:d=>d[1],y:d=>d[2],text:d=>d[0],fontSize:60,fill:"#000",stroke:"#000",strokeWidth:1.8,fontFamily:sans})
  ]
});
document.getElementById("map").append(map);

const keyCells = [0,...bandLimits].map(low => ({low, high: low+250}));
const key = Plot.plot({
  width:1055, height:63, margin:0,
  x:{domain:[0,3000], range:[300,758], axis:null},
  y:{domain:[0,1], range:[50,30], axis:null},
  color: colorOpt,
  marks:[
    Plot.rect(keyCells,{x1:"low",x2:"high",y1:0,y2:1,fill:"low",stroke:"#9a9a9a",strokeWidth:.6}),
    Plot.text(keyTop,{x:d=>d,y:1,dy:-8,text:d=>String(d),fontSize:13,fontWeight:"bold",fill:"#111",fontFamily:sans}),
    Plot.text(keyBottom,{x:d=>d,y:0,dy:5.5,text:d=>String(d),fontSize:13,fontWeight:"bold",fill:"#111",fontFamily:sans}),
    Plot.text(["Meters"],{x:3180,y:0.5,text:d=>d,fontSize:13,fontWeight:"bold",fill:"#111",fontFamily:sans})
  ]
});
document.getElementById("key").append(key);
</script></body></html>
